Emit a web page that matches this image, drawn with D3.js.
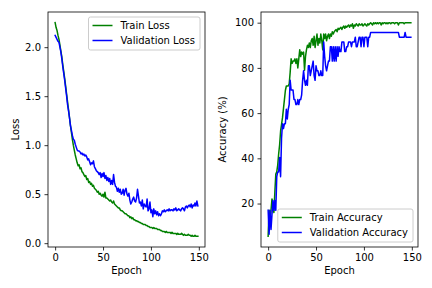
<!DOCTYPE html>
<html><head><meta charset="utf-8">
<script src="https://cdn.jsdelivr.net/npm/d3@7"></script>
<style>body{margin:0;background:#fff}svg text{font-family:"DejaVu Sans",sans-serif;}</style>
</head><body><svg id="c" width="432" height="288"></svg>
<script>
const trainLoss = [
2.25,2.20,2.17,2.12,2.08,2.02,1.96,1.90,1.82,1.75,
1.68,1.60,1.52,1.44,1.36,1.28,1.20,1.13,1.06,1.00,
0.95,0.90,0.86,0.82,0.79,0.80,0.76,0.77,0.73,0.72,
0.70,0.68,0.69,0.65,0.66,0.62,0.63,0.60,0.61,0.58,
0.59,0.56,0.55,0.54,0.52,0.53,0.50,0.51,0.49,0.48,
0.50,0.47,0.52,0.46,0.46,0.45,0.44,0.43,0.44,0.42,
0.41,0.43,0.40,0.39,0.38,0.37,0.36,0.36,0.34,0.33,
0.33,0.32,0.31,0.30,0.30,0.29,0.28,0.28,0.26,0.27,
0.25,0.26,0.24,0.24,0.23,0.23,0.22,0.22,0.21,0.21,
0.20,0.20,0.19,0.19,0.19,0.18,0.18,0.17,0.17,0.16,
0.16,0.16,0.15,0.16,0.15,0.15,0.15,0.14,0.14,0.14,
0.13,0.13,0.12,0.12,0.12,0.11,0.12,0.11,0.11,0.11,
0.11,0.10,0.11,0.10,0.10,0.10,0.10,0.09,0.10,0.09,
0.09,0.09,0.10,0.09,0.08,0.09,0.08,0.08,0.08,0.09,
0.08,0.08,0.07,0.08,0.07,0.07,0.08,0.07,0.07,0.07];
const valLoss = [
2.12,2.10,2.08,2.06,2.05,2.00,1.95,1.88,1.80,1.73,
1.66,1.58,1.50,1.41,1.35,1.28,1.20,1.15,1.10,1.06,
1.05,1.01,0.98,0.95,0.94,0.94,0.93,0.91,0.92,0.90,
0.91,0.89,0.90,0.88,0.85,0.86,0.83,0.80,0.82,0.81,
0.84,0.78,0.76,0.74,0.73,0.72,0.70,0.72,0.67,0.71,
0.68,0.72,0.66,0.69,0.64,0.67,0.63,0.66,0.60,0.64,
0.60,0.70,0.62,0.58,0.57,0.53,0.56,0.52,0.55,0.50,
0.51,0.55,0.49,0.54,0.56,0.50,0.48,0.51,0.44,0.40,
0.42,0.45,0.47,0.43,0.42,0.46,0.55,0.48,0.41,0.42,
0.38,0.44,0.35,0.40,0.38,0.37,0.45,0.33,0.35,0.42,
0.31,0.34,0.27,0.35,0.30,0.33,0.29,0.32,0.28,0.30,
0.28,0.30,0.33,0.32,0.34,0.32,0.33,0.34,0.33,0.35,
0.33,0.34,0.34,0.33,0.35,0.34,0.36,0.33,0.34,0.35,
0.34,0.33,0.35,0.36,0.35,0.33,0.37,0.38,0.36,0.38,
0.39,0.37,0.40,0.36,0.39,0.38,0.41,0.38,0.43,0.38];
const trainAcc = [
5.5,17,12,17,22,20,16,25,33,34,
37,42,46,52,55,58,62,66,70,72,
72,72,73,78,84,82,83,83,84,82,
84,80,84,88,85,87,86,87,79,85,
88,90,89,91,89,92,93,90,94,89,
92,95,90,93,91,95,92,88,95,93,
95,92,94,95,93,95,94,96,95,96,
96.5,97,96,97.5,97,97.5,98,97,98,98.5,
97.5,98.5,98,98.5,99,98,99,98.5,99.5,97.5,
99,98.5,99.5,99,98.5,99.5,99,99,99.5,98.5,
99,99.5,99,98.5,99.5,99,99.5,100,99.5,99,
100,99.5,100,99.5,100,99.5,100,100,99,100,
99.5,100,100,99.5,100,99.5,100,100,99.5,100,
100,100,99.5,100,100,100,99,100,100,100,
100,100,99.5,100,100,100,100,100,100,100];
const valAcc = [
17.0,6.4,17.0,8.5,14.9,21.3,17.0,21.3,17.0,31.9,
34.0,34.0,40.4,31.9,48.9,55.3,53.2,55.3,55.3,61.7,
57.4,61.7,63.8,74.5,70.2,70.2,70.2,66.0,66.0,63.8,
63.8,66.0,63.8,66.0,66.0,68.1,74.5,78.7,74.5,72.3,
74.5,72.3,80.9,80.9,76.6,78.7,80.9,83.0,76.6,74.5,
80.9,78.7,78.7,76.6,76.6,78.7,76.6,76.6,91.5,85.1,
80.9,78.7,80.9,83.0,83.0,89.4,89.4,83.0,89.4,83.0,
89.4,83.0,89.4,85.1,89.4,87.2,87.2,91.5,91.5,91.5,
87.2,87.2,89.4,89.4,91.5,91.5,91.5,89.4,91.5,91.5,
91.5,93.6,89.4,89.4,91.5,93.6,93.6,89.4,93.6,93.6,
89.4,93.6,93.6,93.6,89.4,93.6,93.6,95.7,95.7,95.7,
95.7,95.7,95.7,95.7,95.7,95.7,95.7,95.7,95.7,95.7,
95.7,95.7,95.7,95.7,95.7,95.7,95.7,95.7,95.7,95.7,
95.7,95.7,95.7,95.7,95.7,95.7,95.7,93.6,93.6,93.6,
93.6,93.6,93.6,95.7,93.6,93.6,93.6,93.6,93.6,93.6];
const epochs = trainLoss.map((_, i) => i);
const xTicks = [0, 50, 100, 150];
const lossTicks = [0.0, 0.5, 1.0, 1.5, 2.0];
const accTicks = [20, 40, 60, 80, 100];

const svg = d3.select("#c");

function pad(ext) { const r = ext[1] - ext[0]; return [ext[0] - 0.05 * r, ext[1] + 0.05 * r]; }

function panel(o) {
  const g = svg.append("g");
  const x = d3.scaleLinear().domain(pad(d3.extent(epochs))).range([o.x0, o.x1]);
  const all = o.series.flatMap(s => s.values);
  const y = d3.scaleLinear().domain(pad(d3.extent(all))).range([o.y1, o.y0]);

  const xa = g.append("g").attr("transform", `translate(0,${o.y1})`)
    .call(d3.axisBottom(x).tickValues(xTicks).tickSize(3.5).tickPadding(3.5).tickFormat(d3.format("d")));
  const ya = g.append("g").attr("transform", `translate(${o.x0},0)`)
    .call(d3.axisLeft(y).tickValues(o.yTicks).tickSize(3.5).tickPadding(3.5).tickFormat(o.fmt));
  [xa, ya].forEach(a => {
    a.select(".domain").remove();
    a.selectAll("line").attr("stroke", "#000").attr("stroke-width", 0.8);
    a.selectAll("text").attr("font-size", 10).attr("fill", "#000").style("font-family", "DejaVu Sans");
  });

  const line = d3.line().x((d, i) => x(epochs[i])).y(d => y(d));
  o.series.forEach(s => {
    g.append("path").attr("d", line(s.values)).attr("fill", "none")
      .attr("stroke", s.color).attr("stroke-width", 1.5).attr("stroke-linejoin", "round").attr("stroke-linecap", "square");
  });

  g.append("rect").attr("x", o.x0).attr("y", o.y0).attr("width", o.x1 - o.x0).attr("height", o.y1 - o.y0)
    .attr("fill", "none").attr("stroke", "#000").attr("stroke-width", 0.8);

  g.append("text").attr("x", (o.x0 + o.x1) / 2).attr("y", 274).attr("text-anchor", "middle")
    .attr("font-size", 10).text("Epoch");
  g.append("text").attr("transform", `translate(${o.ylabX},${(o.y0 + o.y1) / 2}) rotate(-90)`)
    .attr("text-anchor", "middle").attr("font-size", 10).text(o.ylabel);

  // legend
  const lg = g.append("g");
  const box = lg.append("rect");
  const texts = o.series.map((s, i) => lg.append("text").attr("font-size", 10).attr("dy", "0.35em").text(s.name));
  const tw = d3.max(texts, t => t.node().getComputedTextLength());
  const bw = 4 + 20 + 8 + tw + 5, bh = 33;
  const right = o.x1 - 5;
  const top = o.legendTop ? o.y0 + 5 : o.y1 - 5 - bh;
  const left = right - bw;
  box.attr("x", left).attr("y", top).attr("width", bw).attr("height", bh).attr("rx", 2)
    .attr("fill", "#fff").attr("fill-opacity", 0.8).attr("stroke", "#cccccc").attr("stroke-width", 1);
  o.series.forEach((s, i) => {
    const cy = top + 8.5 + i * 15;
    lg.append("line").attr("x1", left + 4).attr("x2", left + 24).attr("y1", cy).attr("y2", cy)
      .attr("stroke", s.color).attr("stroke-width", 1.5);
    texts[i].attr("x", left + 32).attr("y", cy);
  });
}

panel({ x0: 48, x1: 205, y0: 12, y1: 247, ylabel: "Loss", ylabX: 18.5, yTicks: lossTicks, fmt: d3.format(".1f"), legendTop: true,
  series: [{ name: "Train Loss", values: trainLoss, color: "green" }, { name: "Validation Loss", values: valLoss, color: "blue" }] });
panel({ x0: 261, x1: 418, y0: 12, y1: 247, ylabel: "Accuracy (%)", ylabX: 226, yTicks: accTicks, fmt: d3.format("d"), legendTop: false,
  series: [{ name: "Train Accuracy", values: trainAcc, color: "green" }, { name: "Validation Accuracy", values: valAcc, color: "blue" }] });
</script></body></html>
